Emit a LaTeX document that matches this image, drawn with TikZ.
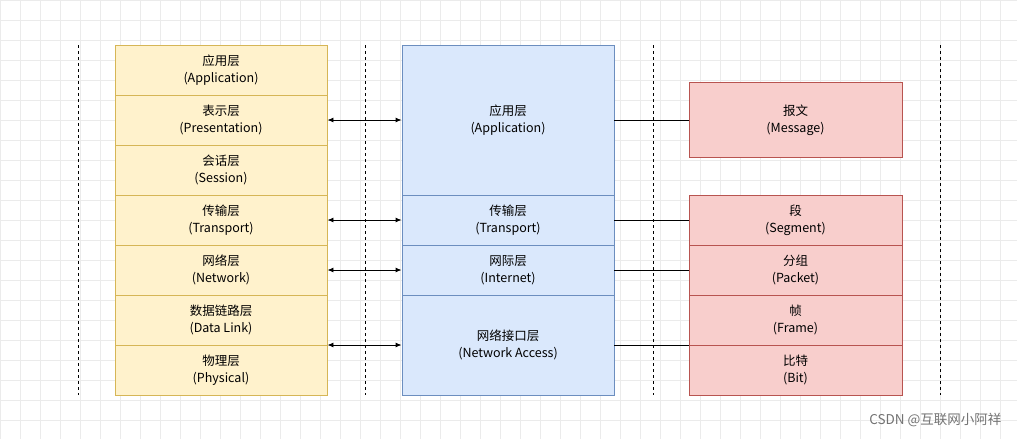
\documentclass[tikz,border=0pt]{standalone}
\usepackage{fontspec}
\setmainfont{Noto Sans CJK SC}
\usetikzlibrary{arrows.meta}
\definecolor{yf}{HTML}{FFF2CC}\definecolor{ys}{HTML}{D6B656}
\definecolor{bf}{HTML}{DAE8FC}\definecolor{bs}{HTML}{6C8EBF}
\definecolor{rf}{HTML}{F8CECC}\definecolor{rs}{HTML}{B85450}
\begin{document}
\begin{tikzpicture}[x=1pt,y=-1pt,
  box/.style={draw=#1s,fill=#1f,line width=0.9pt,align=center,inner sep=0pt,font=\fontsize{12.5}{17}\selectfont},
  sep/.style={dash pattern=on 3pt off 3pt,line width=0.9pt},
  arr/.style={{Latex[length=6pt,width=5pt]}-{Latex[length=6pt,width=5pt]},line width=0.9pt},
  ln/.style={line width=0.9pt}]
\useasboundingbox (0,0) rectangle (1017,439);
\fill[white] (0,0) rectangle (1017,439);
\foreach \x in {0,20,...,1017} \draw[black!8,line width=0.5pt] (\x,0) -- (\x,439);
\foreach \y in {0,20,...,439} \draw[black!8,line width=0.5pt] (0,\y) -- (1017,\y);
\foreach \x [count=\i] in {78,365,653,940} \coordinate (t\i) at (\x,45);
\foreach \x [count=\i] in {78,365,653,940} \coordinate (u\i) at (\x,395);
\foreach \i in {1,...,4} \draw[sep] (t\i) -- (u\i);
% yellow
\def\yb#1#2#3#4{\node[box=y,minimum width=212pt,minimum height=50pt] (#1) at (221,#2) {#3\\(#4)};}
\yb{y1}{70}{应用层}{Application}
\yb{y2}{120}{表示层}{Presentation}
\yb{y3}{170}{会话层}{Session}
\yb{y4}{220}{传输层}{Transport}
\yb{y5}{270}{网络层}{Network}
\yb{y6}{320}{数据链路层}{Data Link}
\yb{y7}{370}{物理层}{Physical}
% blue
\node[box=b,minimum width=212pt,minimum height=150pt] (b1) at (508,120) {应用层\\(Application)};
\node[box=b,minimum width=212pt,minimum height=50pt] (b2) at (508,220) {传输层\\(Transport)};
\node[box=b,minimum width=212pt,minimum height=50pt] (b3) at (508,270) {网际层\\(Internet)};
\node[box=b,minimum width=212pt,minimum height=100pt] (b4) at (508,345) {网络接口层\\(Network Access)};
% red
\node[box=r,minimum width=213pt,minimum height=75pt] (r1) at (795.5,120) {报文\\(Message)};
\node[box=r,minimum width=213pt,minimum height=50pt] (r2) at (795.5,220) {段\\(Segment)};
\node[box=r,minimum width=213pt,minimum height=50pt] (r3) at (795.5,270) {分组\\(Packet)};
\node[box=r,minimum width=213pt,minimum height=50pt] (r4) at (795.5,320) {帧\\(Frame)};
\node[box=r,minimum width=213pt,minimum height=50pt] (r5) at (795.5,370) {比特\\(Bit)};
% connectors
\draw[arr] (y2.east) -- (b1.west);
\draw[arr] (y4.east) -- (b2.west);
\draw[arr] (y5.east) -- (b3.west);
\draw[arr] (b4.west -| y7.east) -- (b4.west);
\draw[ln] (b1.east) -- (r1.west);
\draw[ln] (b2.east) -- (r2.west);
\draw[ln] (b3.east) -- (r3.west);
\draw[ln] (b4.east) -- (b4.east -| r4.west);
\node[text=black!55,font=\fontsize{13.5}{16}\selectfont,anchor=east] (wm) at (1005,420) {CSDN @互联网小阿祥};
\end{tikzpicture}
\end{document}
